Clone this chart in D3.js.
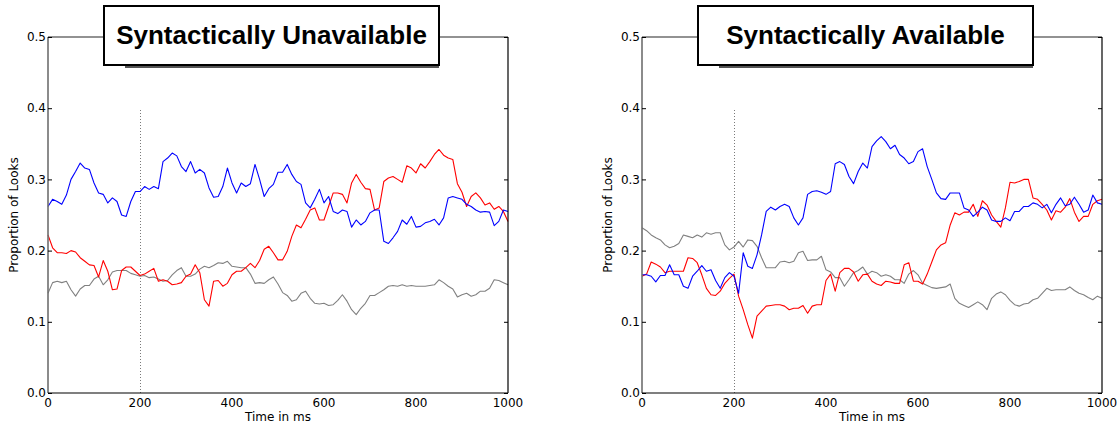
<!DOCTYPE html>
<html>
<head>
<meta charset="utf-8">
<script src="https://cdn.jsdelivr.net/npm/d3@7"></script>
<style>
  body { margin: 0; background: #fff; }
  svg { display: block; font-family: "DejaVu Sans", sans-serif; }
</style>
</head>
<body>
<svg id="chart" width="1120" height="425"></svg>
<script>
//	sample times (ms), one reading every 10 ms
var timesMs = d3.range(0, 1001, 10);

//	x / y tick labels
var xTicks = [0, 200, 400, 600, 800, 1000];
var yTicks = [0.0, 0.1, 0.2, 0.3, 0.4, 0.5];

//	panel titles
var panelTitles = ["Syntactically Unavailable", "Syntactically Available"];

//	"Syntactically Unavailable" series
var unavailBlue = [
    0.262,0.272,0.269,0.265,0.278,0.300,0.311,0.323,0.316,0.314,
    0.295,0.281,0.279,0.267,0.274,0.269,0.250,0.248,0.269,0.283,
    0.283,0.290,0.286,0.290,0.287,0.325,0.330,0.337,0.333,0.318,
    0.311,0.325,0.309,0.314,0.309,0.288,0.275,0.276,0.290,0.316,
    0.295,0.281,0.295,0.290,0.294,0.321,0.300,0.276,0.287,0.293,
    0.310,
    0.310,0.321,0.307,0.297,0.293,0.267,0.260,0.272,0.286,0.267,
    0.276,0.255,0.252,0.257,0.255,0.233,0.243,0.236,0.241,0.253,
    0.257,0.257,0.213,0.210,0.218,0.227,0.243,0.237,0.248,0.233,
    0.234,0.239,0.241,0.244,0.236,0.246,0.274,0.276,0.274,0.272,
    0.265,0.262,0.257,0.254,0.255,0.254,0.235,0.241,0.257,0.255
];
var unavailRed = [
    0.222,0.204,0.197,0.197,0.196,0.200,0.198,0.190,0.185,0.180,
    0.179,0.163,0.186,0.171,0.145,0.146,0.172,0.177,0.177,0.171,
    0.165,0.167,0.171,0.175,0.157,0.159,0.157,0.152,0.153,0.155,
    0.164,0.167,0.180,0.169,0.131,0.122,0.157,0.158,0.150,0.154,
    0.166,0.171,0.171,0.176,0.182,0.176,0.186,0.202,0.206,0.197,
    0.187,
    0.187,0.199,0.220,0.236,0.232,0.244,0.257,0.260,0.243,0.243,
    0.262,0.281,0.281,0.279,0.267,0.295,0.307,0.296,0.287,0.286,
    0.257,0.260,0.297,0.302,0.304,0.300,0.296,0.319,0.316,0.309,
    0.322,0.316,0.325,0.335,0.342,0.334,0.330,0.328,0.294,0.282,
    0.262,0.276,0.281,0.274,0.264,0.267,0.258,0.262,0.255,0.241
];
var unavailGray = [
    0.140,0.155,0.157,0.155,0.157,0.145,0.136,0.146,0.151,0.151,
    0.160,0.164,0.152,0.159,0.170,0.172,0.172,0.172,0.168,0.166,
    0.164,0.165,0.162,0.163,0.160,0.157,0.158,0.166,0.172,0.176,
    0.164,0.164,0.167,0.174,0.178,0.176,0.179,0.183,0.182,0.185,
    0.178,0.177,0.176,0.176,0.167,0.154,0.155,0.154,0.159,0.163,
    0.153,
    0.141,0.137,0.129,0.131,0.140,0.143,0.133,0.126,0.125,0.126,
    0.123,0.124,0.130,0.138,0.129,0.117,0.110,0.119,0.126,0.137,
    0.137,0.141,0.145,0.150,0.151,0.150,0.152,0.150,0.151,0.150,
    0.150,0.150,0.151,0.152,0.159,0.155,0.150,0.146,0.135,0.138,
    0.140,0.136,0.138,0.143,0.143,0.147,0.159,0.158,0.155,0.152
];

//	"Syntactically Available" series
var availBlue = [
    0.166,0.166,0.164,0.156,0.165,0.165,0.180,0.166,0.166,0.150,
    0.147,0.164,0.171,0.179,0.171,0.173,0.158,0.147,0.162,0.169,
    0.164,0.140,0.197,0.178,0.175,0.194,0.222,0.255,0.261,0.257,
    0.262,0.265,0.262,0.246,0.236,0.246,0.279,0.283,0.284,0.282,
    0.279,0.283,0.322,0.325,0.321,0.304,0.294,0.311,0.323,0.316,
    0.346,
    0.354,0.360,0.353,0.343,0.348,0.335,0.330,0.322,0.325,0.339,
    0.343,0.318,0.300,0.281,0.273,0.272,0.281,0.281,0.281,0.260,
    0.257,0.248,0.254,0.261,0.257,0.243,0.241,0.241,0.246,0.242,
    0.255,0.255,0.262,0.262,0.267,0.265,0.260,0.265,0.253,0.265,
    0.274,0.263,0.265,0.275,0.265,0.254,0.257,0.278,0.267,0.265
];
var availRed = [
    0.164,0.167,0.184,0.181,0.177,0.169,0.171,0.171,0.171,0.171,
    0.190,0.189,0.183,0.166,0.147,0.138,0.137,0.143,0.154,0.161,
    0.167,0.136,0.117,0.096,0.077,0.108,0.115,0.122,0.123,0.124,
    0.124,0.122,0.117,0.119,0.119,0.123,0.112,0.122,0.124,0.124,
    0.158,0.167,0.143,0.169,0.175,0.175,0.170,0.157,0.166,0.167,
    0.157,
    0.153,0.151,0.157,0.156,0.154,0.154,0.180,0.183,0.157,0.157,
    0.153,0.167,0.184,0.201,0.208,0.211,0.236,0.253,0.250,0.254,
    0.254,0.265,0.248,0.270,0.264,0.250,0.241,0.233,0.260,0.296,
    0.295,0.297,0.300,0.300,0.274,0.272,0.265,0.257,0.243,0.256,
    0.254,0.261,0.273,0.254,0.241,0.248,0.248,0.265,0.270,0.272
];
var availGray = [
    0.232,0.228,0.222,0.218,0.215,0.208,0.204,0.206,0.210,0.222,
    0.220,0.218,0.222,0.219,0.225,0.223,0.225,0.225,0.208,0.201,
    0.205,0.213,0.205,0.215,0.214,0.206,0.190,0.176,0.176,0.176,
    0.184,0.185,0.183,0.185,0.197,0.199,0.186,0.187,0.187,0.192,
    0.173,0.170,0.162,0.162,0.150,0.159,0.169,0.172,0.177,0.167,
    0.171,
    0.169,0.164,0.166,0.164,0.159,0.159,0.154,0.167,0.172,0.166,
    0.154,0.151,0.148,0.147,0.148,0.149,0.153,0.133,0.126,0.123,
    0.120,0.124,0.128,0.124,0.117,0.133,0.139,0.142,0.138,0.130,
    0.124,0.122,0.125,0.126,0.131,0.133,0.140,0.147,0.144,0.145,
    0.145,0.145,0.149,0.144,0.140,0.138,0.134,0.131,0.136,0.133
];

//	marker time for the dotted line
var markerMs = 200;
var markerTop = 0.4;

var panels = [
    {title: panelTitles[0], left: 48, series: [
        {values: unavailGray, color: "#808080"},
        {values: unavailRed, color: "#ff0000"},
        {values: unavailBlue, color: "#0000ff"}
    ]},
    {title: panelTitles[1], left: 642, series: [
        {values: availGray, color: "#808080"},
        {values: availRed, color: "#ff0000"},
        {values: availBlue, color: "#0000ff"}
    ]}
];

var svg = d3.select("#chart"),
        plotW = 460,
        plotTop = 37,
        plotBottom = 393;

var y = d3.scaleLinear().domain([0, 0.5]).range([plotBottom, plotTop]);

panels.forEach(function (p) {
    var x = d3.scaleLinear().domain([0, 1000]).range([p.left, p.left + plotW]);
    var g = svg.append("g");

    //	dotted marker
    g.append("line")
            .attr("x1", x(markerMs) + 0.5).attr("x2", x(markerMs) + 0.5)
            .attr("y1", y(0)).attr("y2", y(markerTop))
            .attr("stroke", "#7a7a7a")
            .attr("stroke-width", 1)
            .attr("stroke-dasharray", "1,2");

    //	series lines
    var line = d3.line()
            .x(function (d, i) { return x(timesMs[i]); })
            .y(function (d) { return y(d); });
    p.series.forEach(function (s) {
        g.append("path")
                .datum(s.values)
                .attr("d", line)
                .attr("fill", "none")
                .attr("stroke", s.color)
                .attr("stroke-width", 1.1)
                .attr("stroke-linejoin", "round");
    });

    //	spines: left/top grey, right/bottom black
    g.append("line").attr("x1", x(0)).attr("x2", x(0)).attr("y1", plotTop).attr("y2", plotBottom)
            .attr("stroke", "#6e6e6e").attr("stroke-width", 1.6);
    g.append("line").attr("x1", x(0)).attr("x2", x(1000)).attr("y1", plotTop).attr("y2", plotTop)
            .attr("stroke", "#6e6e6e").attr("stroke-width", 1.6);
    g.append("line").attr("x1", x(1000)).attr("x2", x(1000)).attr("y1", plotTop).attr("y2", plotBottom)
            .attr("stroke", "#000").attr("stroke-width", 1.2);
    g.append("line").attr("x1", x(0)).attr("x2", x(1000)).attr("y1", plotBottom).attr("y2", plotBottom)
            .attr("stroke", "#000").attr("stroke-width", 1.2);

    //	y axis (ticks inward) left + right
    var yAxisL = d3.axisRight(y).tickValues(yTicks).tickSize(4).tickFormat("");
    var yAxisR = d3.axisLeft(y).tickValues(yTicks).tickSize(4).tickFormat("");
    g.append("g").attr("transform", "translate(" + x(0) + ",0)").call(yAxisL)
            .call(function (a) { a.select(".domain").remove(); });
    g.append("g").attr("transform", "translate(" + x(1000) + ",0)").call(yAxisR)
            .call(function (a) { a.select(".domain").remove(); });

    //	y tick labels
    g.selectAll(".ylab").data(yTicks).enter().append("text")
            .attr("x", x(0) - 2)
            .attr("y", function (d) { return y(d); })
            .attr("dy", "0.35em")
            .attr("text-anchor", "end")
            .attr("font-size", 12)
            .text(function (d) { return d3.format(".1f")(d); });

    //	x tick labels
    g.selectAll(".xlab").data(xTicks).enter().append("text")
            .attr("x", function (d) { return x(d); })
            .attr("y", 407)
            .attr("text-anchor", "middle")
            .attr("font-size", 12)
            .text(function (d) { return d; });

    //	axis titles
    g.append("text")
            .attr("x", x(500))
            .attr("y", 421)
            .attr("text-anchor", "middle")
            .attr("font-size", 12)
            .text("Time in ms");
    g.append("text")
            .attr("transform", "translate(" + (x(0) - 30) + "," + ((plotTop + plotBottom) / 2) + ") rotate(-90)")
            .attr("text-anchor", "middle")
            .attr("font-size", 12)
            .text("Proportion of Looks");

    //	title box with shadow
    var boxW = 335, boxH = 59,
            boxX = x(500) - 6.5 - boxW / 2, boxY = 6;
    g.append("rect")
            .attr("x", boxX + 21).attr("y", boxY + 2)
            .attr("width", boxW - 21).attr("height", boxH + 1)
            .attr("fill", "#555");
    g.append("rect")
            .attr("x", boxX).attr("y", boxY)
            .attr("width", boxW).attr("height", boxH)
            .attr("fill", "#fff")
            .attr("stroke", "#000")
            .attr("stroke-width", 2);
    g.append("text")
            .attr("x", boxX + boxW / 2)
            .attr("y", boxY + 38)
            .attr("text-anchor", "middle")
            .attr("font-family", "'Liberation Sans', Arial, sans-serif")
            .attr("font-weight", "bold")
            .attr("font-size", 26)
            .text(p.title);
});
</script>
</body>
</html>
